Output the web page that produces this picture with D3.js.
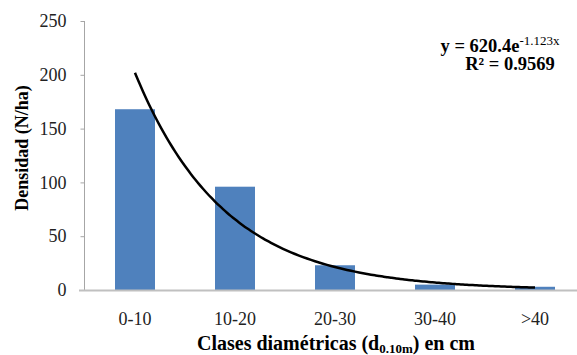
<!DOCTYPE html>
<html><head><meta charset="utf-8">
<script src="https://cdn.jsdelivr.net/npm/d3@7"></script>
<style>body{margin:0;background:#fff}svg{display:block}svg text{font-family:"Liberation Serif","Times New Roman",serif}</style>
</head><body><svg id="c" width="577" height="355"></svg>
<script>
const categories = ["0-10","10-20","20-30","30-40",">40"];
const densidad = [168, 96, 23, 5, 3];
const yTicks = [0,50,100,150,200,250];
const fitA = 620.4, fitB = -1.123;
const eqLine1 = "y = 620.4e", eqExp = "-1.123x", eqLine2 = "R² = 0.9569";

const svg = d3.select("#c");
const x = d3.scaleBand().domain(categories).range([85, 585]).padding(0);
const y = d3.scaleLinear().domain([0,250]).range([290, 21]);

// y axis
const yAxis = d3.axisLeft(y).tickValues(yTicks).tickSize(4).tickPadding(14);
const gy = svg.append("g").attr("transform","translate(84.5,0)").call(yAxis);
gy.attr("font-family",null);
gy.select(".domain").attr("stroke","#a6a6a6").attr("d","M0,21V290.5");
gy.selectAll(".tick line").attr("stroke","#a6a6a6");
gy.selectAll(".tick text").attr("font-size",18).attr("fill","#222");

// bars
const bw = x.bandwidth()*0.4;
svg.append("g").selectAll("rect").data(densidad).join("rect")
  .attr("x",(d,i)=>x(categories[i])+x.bandwidth()/2-bw/2)
  .attr("y",d=>y(d)).attr("width",bw).attr("height",d=>y(0)-y(d))
  .attr("fill","#4f81bd");

// x axis
const xAxis = d3.axisBottom(x).tickSize(0).tickPadding(22);
const gx = svg.append("g").attr("transform","translate(0,290.5)").call(xAxis);
gx.attr("font-family",null);
gx.select(".domain").attr("stroke","#c0c0c0").attr("stroke-width",2).attr("d","M79,0H577");
gx.selectAll(".tick text").attr("font-size",18).attr("fill","#222");

// trendline
const xn = d3.scaleLinear().domain([1,5]).range([x(categories[0])+x.bandwidth()/2, x(categories[4])+x.bandwidth()/2]);
const pts = d3.range(1,5.0001,0.04).map(t=>[xn(t), y(fitA*Math.exp(fitB*t))]);
svg.append("path").attr("d",d3.line().curve(d3.curveBasis)(pts))
  .attr("fill","none").attr("stroke","#000").attr("stroke-width",2.5);

// equation
const eq = svg.append("text").attr("x",500).attr("y",52).attr("text-anchor","middle")
  .attr("font-weight","bold").attr("font-size",18.5).attr("fill","#000");
eq.append("tspan").text(eqLine1);
eq.append("tspan").attr("dy",-7).attr("font-size",13).attr("font-weight","normal").text(eqExp);
svg.append("text").attr("x",510).attr("y",70).attr("text-anchor","middle")
  .attr("font-weight","bold").attr("font-size",18.5).text(eqLine2);

// axis titles
svg.append("text").attr("transform","translate(28,148) rotate(-90)").attr("text-anchor","middle")
  .attr("font-weight","bold").attr("font-size",18).text("Densidad (N/ha)");
const xt = svg.append("text").attr("x",336).attr("y",350).attr("text-anchor","middle")
  .attr("font-weight","bold").attr("font-size",20);
xt.append("tspan").text("Clases diamétricas (d");
xt.append("tspan").attr("dy",3).attr("font-size",13).text("0.10m");
xt.append("tspan").attr("dy",-3).text(") en cm");
</script></body></html>
